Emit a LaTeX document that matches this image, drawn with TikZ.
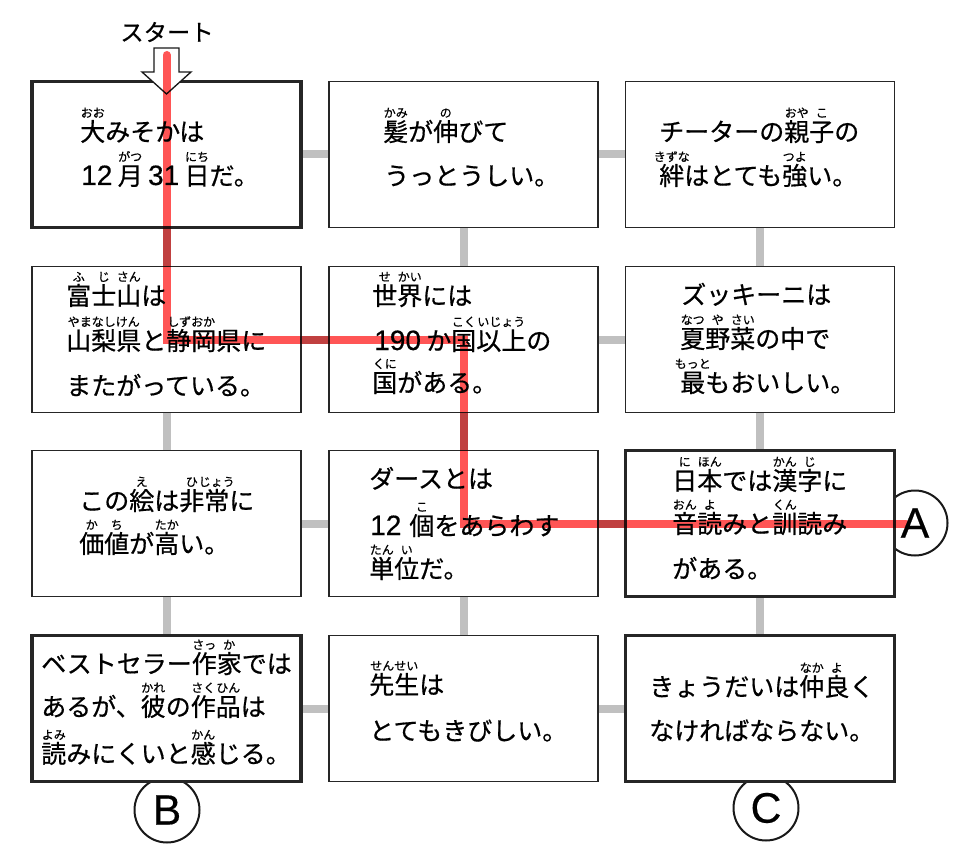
\documentclass[tikz,border=0pt]{standalone}
\usepackage{fontspec}
\setmainfont{Liberation Sans}
\newfontfamily\jp[FakeBold=0.6]{Noto Sans CJK JP}
\newfontfamily\lat[FakeBold=0.4]{Liberation Sans}
\usetikzlibrary{calc}
\definecolor{redc}{RGB}{255,85,85}
\definecolor{connc}{RGB}{192,192,192}
\newcommand\rubyf{\fontsize{9pt}{9pt}\selectfont}
\newcommand\rb[2]{\leavevmode\setbox0=\hbox{#1}\rlap{\hbox to \wd0{\hss\raisebox{0.95em}[0pt][0pt]{\rubyf #2}\hss}}\box0}
\newcommand\dg[1]{{\lat\fontsize{21pt}{21pt}\selectfont #1}}
\tikzset{
  box/.style={draw=black!85, line width=1pt, fill=white, minimum width=201.75pt, minimum height=109.5pt, inner sep=0pt},
  tbox/.style={box, line width=2.5pt},
  txt/.style={anchor=base west, inner sep=0pt, font=\jp\fontsize{18.75pt}{18.75pt}\selectfont},
  conn/.style={draw=connc, line width=6pt},
  redl/.style={draw=redc, line width=6pt, blend mode=multiply, line cap=round},
  lab/.style={circle, draw=black!90, line width=1.5pt, fill=white, minimum size=48.75pt, inner sep=0pt, font=\lat\fontsize{32pt}{32pt}\selectfont},
  startarrow/.style={draw=black!90, fill=white, line width=1pt, line join=miter}
}
\begin{document}
\begin{tikzpicture}[x=0.75pt,y=-0.75pt]
\useasboundingbox (0,0) rectangle (960,859);
% box placement first for connectors
\path (166.5,154.5) node[box] (b11) {} (463.5,154.5) node[box] (b12) {} (760,154.5) node[box] (b13) {}
      (166.5,339.5) node[box] (b21) {} (463.5,339.5) node[box] (b22) {} (760,339.5) node[box] (b23) {}
      (166.5,523.5) node[box] (b31) {} (463.5,523.5) node[box] (b32) {} (760,523.5) node[box] (b33) {}
      (166.5,708.5) node[box] (b41) {} (463.5,708.5) node[box] (b42) {} (760,708.5) node[box] (b43) {};
% connectors
\foreach \r in {1,2,3,4}{
  \draw[conn] (b\r1) -- (b\r2);
  \draw[conn] (b\r2) -- (b\r3);
}
\foreach \c in {1,2,3}{
  \draw[conn] (b1\c) -- (b2\c);
  \draw[conn] (b2\c) -- (b3\c);
  \draw[conn] (b3\c) -- (b4\c);
}
% circles
\node[lab] (A) at (915,523) {A};
\node[lab] (B) at (167,810) {B};
\node[lab] (C) at (766,808) {C};
% boxes
\node[tbox] (B11) at (b11) {};
\node[box] (B12) at (b12) {};
\node[box] (B13) at (b13) {};
\node[box] (B21) at (b21) {};
\node[box] (B22) at (b22) {};
\node[box] (B23) at (b23) {};
\node[box] (B31) at (b31) {};
\node[box] (B32) at (b32) {};
\node[tbox] (B33) at (b33) {};
\node[tbox] (B41) at (b41) {};
\node[box] (B42) at (b42) {};
\node[tbox] (B43) at (b43) {};
% texts
\node[txt] (t11a) at (80,141) {\rb{大}{おお}みそかは};
\node[txt] (t11b) at (81,185) {\dg{12}\hspace{4pt}\rb{月}{がつ}\hspace{4pt}\dg{31}\hspace{4pt}\rb{日}{にち}だ。};
\node[txt] (t12a) at (383,141) {\rb{髪}{かみ}が\rb{伸}{の}びて};
\node[txt] (t12b) at (384,185) {うっとうしい。};
\node[txt] (t13a) at (659,141) {チーターの\rb{親}{おや}\rb{子}{こ}の};
\node[txt] (t13b) at (659,185) {\rb{絆}{きずな}はとても\rb{強}{つよ}い。};
\node[txt] (t21a) at (66,305) {\rb{富}{ふ}\rb{士}{じ}\rb{山}{さん}は};
\node[txt] (t21b) at (66,350) {\rb{山梨県}{やまなしけん}と\rb{静岡}{しずおか}県に};
\node[txt] (t21c) at (66,395) {またがっている。};
\node[txt] (t22a) at (372,305) {\rb{世}{せ}\rb{界}{かい}には};
\node[txt] (t22b) at (374,350) {\dg{190}\hspace{4pt}か\rb{国}{こく}\rb{以上}{いじょう}の};
\node[txt] (t22c) at (372,392) {\rb{国}{くに}がある。};
\node[txt] (t23a) at (681,304) {ズッキーニは};
\node[txt] (t23b) at (680,348) {\rb{夏}{なつ}\rb{野}{や}\rb{菜}{さい}の中で};
\node[txt] (t23c) at (680,392) {\rb{最}{もっと}もおいしい。};
\node[txt] (t31a) at (79,510) {この\rb{絵}{え}は\rb{非}{ひ}\rb{常}{じょう}に};
\node[txt] (t31b) at (79,553) {\rb{価}{か}\rb{値}{ち}が\rb{高}{たか}い。};
\node[txt] (t32a) at (369,488) {ダースとは};
\node[txt] (t32b) at (370,535) {\dg{12}\hspace{6pt}\rb{個}{こ}をあらわす};
\node[txt] (t32c) at (369,578) {\rb{単}{たん}\rb{位}{い}だ。};
\node[txt] (t33a) at (672,490) {\rb{日}{に}\rb{本}{ほん}では\rb{漢}{かん}\rb{字}{じ}に};
\node[txt] (t33b) at (672,533) {\rb{音}{おん}\rb{読}{よ}みと\rb{訓}{くん}読み};
\node[txt] (t33c) at (672,578) {がある。};
\node[txt] (t41a) at (41,673) {ベストセラー\rb{作}{さっ}\rb{家}{か}では};
\node[txt] (t41b) at (41,716) {あるが、\rb{彼}{かれ}の\rb{作}{さく}\rb{品}{ひん}は};
\node[txt] (t41c) at (41,763) {\rb{読}{よみ}みにくいと\rb{感}{かん}じる。};
\node[txt] (t42a) at (369,694) {\rb{先生}{せんせい}は};
\node[txt] (t42b) at (369,740) {とてもきびしい。};
\node[txt] (t43a) at (649,696) {きょうだいは\rb{仲}{なか}\rb{良}{よ}く};
\node[txt] (t43b) at (649,740) {なければならない。};
% start label and arrow
\node[anchor=base, inner sep=0pt, font=\jp\fontsize{17.5pt}{17.5pt}\selectfont] (start) at (167,41) {スタート};
\draw[startarrow] (154,48) -- (179,48) -- (179,72) -- (191,72) -- (166.5,94) -- (142,72) -- (154,72) -- cycle;
% red path
\coordinate (st) at (166.5,55);
\coordinate (aend) at (906,523.5);
\draw[redl] (st) |- (b22.center) -- (b32.center) -- (aend);
\end{tikzpicture}
\end{document}
